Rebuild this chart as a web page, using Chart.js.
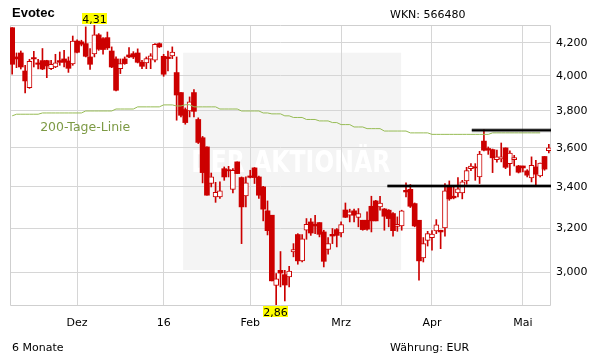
<!DOCTYPE html>
<html><head><meta charset="utf-8">
<script src="https://cdn.jsdelivr.net/npm/chart.js@4.4.0/dist/chart.umd.min.js"></script>
<style>
html,body{margin:0;padding:0;background:#fff;}
#wrap{position:relative;width:611px;height:364px;overflow:hidden;background:#fff;}
canvas{position:absolute;left:0;top:0;}
.t{position:absolute;font-family:"DejaVu Sans";font-size:11px;line-height:13px;color:#000;white-space:nowrap;}
</style></head><body>
<div id="wrap">
<canvas id="c" width="611" height="364"></canvas>
<div class="t" style="left:12px;top:6px;font-family:'Liberation Sans';font-weight:bold;font-size:13px;">Evotec</div>
<div class="t" style="left:390px;top:8px;">WKN: 566480</div>
<div class="t" style="left:12px;top:341px;">6 Monate</div>
<div class="t" style="left:390px;top:341px;">Währung: EUR</div>
</div>
<script>
const dates = [
'2015-11-10','2015-11-11','2015-11-12','2015-11-13','2015-11-16','2015-11-17','2015-11-18','2015-11-19','2015-11-20','2015-11-23','2015-11-24','2015-11-25','2015-11-26','2015-11-27','2015-11-30',
'2015-12-01','2015-12-02','2015-12-03','2015-12-04','2015-12-07','2015-12-08','2015-12-09','2015-12-10','2015-12-11','2015-12-14','2015-12-15','2015-12-16','2015-12-17','2015-12-18','2015-12-21','2015-12-22','2015-12-23','2015-12-28','2015-12-29','2015-12-30',
'2016-01-04','2016-01-05','2016-01-06','2016-01-07','2016-01-08','2016-01-11','2016-01-12','2016-01-13','2016-01-14','2016-01-15','2016-01-18','2016-01-19','2016-01-20','2016-01-21','2016-01-22','2016-01-25','2016-01-26','2016-01-27','2016-01-28','2016-01-29',
'2016-02-01','2016-02-02','2016-02-03','2016-02-04','2016-02-05','2016-02-08','2016-02-09','2016-02-10','2016-02-11','2016-02-12','2016-02-15','2016-02-16','2016-02-17','2016-02-18','2016-02-19','2016-02-22','2016-02-23','2016-02-24','2016-02-25','2016-02-26','2016-02-29',
'2016-03-01','2016-03-02','2016-03-03','2016-03-04','2016-03-07','2016-03-08','2016-03-09','2016-03-10','2016-03-11','2016-03-14','2016-03-15','2016-03-16','2016-03-17','2016-03-18','2016-03-21','2016-03-22','2016-03-23','2016-03-24','2016-03-29','2016-03-30','2016-03-31',
'2016-04-01','2016-04-04','2016-04-05','2016-04-06','2016-04-07','2016-04-08','2016-04-11','2016-04-12','2016-04-13','2016-04-14','2016-04-15','2016-04-18','2016-04-19','2016-04-20','2016-04-21','2016-04-22','2016-04-25','2016-04-26','2016-04-27','2016-04-28','2016-04-29',
'2016-05-02','2016-05-03','2016-05-04','2016-05-05','2016-05-06','2016-05-09','2016-05-10'
];
const open = [
4.293,4.113,4.137,4.029,3.932,4.109,4.077,4.091,4.091,4.043,
4.053,4.091,4.101,4.089,4.071,4.210,4.205,4.194,4.113,4.131,
4.248,4.225,4.231,4.149,4.101,4.043,4.101,4.125,4.133,4.137,
4.081,4.077,4.099,4.093,4.194,4.117,4.113,4.119,4.020,3.904,
3.808,3.800,3.904,3.753,3.654,3.605,3.417,3.351,3.351,3.492,
3.487,3.388,3.527,3.447,3.356,3.455,3.496,3.450,3.400,3.283,
3.262,2.943,3.009,2.990,2.980,3.091,3.171,3.051,3.191,3.230,
3.219,3.227,3.183,3.102,3.172,3.194,3.178,3.287,3.262,3.283,
3.251,3.238,3.238,3.305,3.331,3.302,3.292,3.286,3.270,3.209,
3.211,3.383,3.388,3.318,3.238,3.064,3.144,3.157,3.188,3.191,
3.202,3.400,3.354,3.370,3.370,3.430,3.492,3.501,3.450,3.636,
3.597,3.591,3.539,3.542,3.600,3.518,3.539,3.506,3.506,3.481,
3.445,3.501,3.455,3.555,3.586];
const close = [
4.069,4.101,4.053,3.971,4.087,4.101,4.069,4.041,4.059,4.069,
4.077,4.081,4.081,4.045,4.210,4.141,4.190,4.117,4.069,4.248,
4.160,4.158,4.168,4.053,3.917,4.073,4.073,4.113,4.113,4.081,
4.057,4.103,4.119,4.190,4.174,4.010,4.103,4.143,3.890,3.776,
3.736,3.851,3.798,3.629,3.472,3.359,3.450,3.373,3.380,3.450,
3.481,3.484,3.467,3.302,3.420,3.448,3.447,3.359,3.291,3.189,
2.963,2.972,2.997,2.945,3.006,3.102,3.051,3.151,3.219,3.178,
3.211,3.172,3.049,3.129,3.164,3.167,3.218,3.252,3.278,3.262,
3.270,3.194,3.196,3.235,3.235,3.321,3.257,3.246,3.189,3.219,
3.283,3.375,3.305,3.211,3.051,3.129,3.175,3.173,3.216,3.183,
3.380,3.341,3.346,3.390,3.425,3.482,3.506,3.496,3.568,3.588,
3.588,3.548,3.553,3.553,3.499,3.573,3.549,3.474,3.496,3.459,
3.509,3.464,3.521,3.490,3.600];
const high = [
4.293,4.137,4.149,4.063,4.099,4.147,4.099,4.164,4.093,4.093,
4.129,4.143,4.153,4.113,4.241,4.218,4.215,4.298,4.164,4.310,
4.256,4.231,4.266,4.174,4.113,4.101,4.113,4.170,4.145,4.162,
4.093,4.113,4.133,4.194,4.198,4.129,4.149,4.174,4.113,3.904,
3.817,3.879,3.921,3.762,3.661,3.605,3.470,3.423,3.425,3.501,
3.504,3.492,3.527,3.450,3.450,3.484,3.498,3.455,3.403,3.331,
3.262,2.995,3.093,3.009,3.027,3.129,3.175,3.171,3.246,3.246,
3.262,3.227,3.191,3.157,3.199,3.199,3.230,3.321,3.291,3.291,
3.294,3.238,3.278,3.354,3.334,3.354,3.294,3.289,3.275,3.254,
3.286,3.420,3.412,3.321,3.238,3.157,3.186,3.189,3.241,3.191,
3.417,3.430,3.400,3.447,3.433,3.499,3.518,3.518,3.582,3.697,
3.605,3.594,3.588,3.626,3.600,3.584,3.561,3.509,3.506,3.487,
3.553,3.535,3.521,3.555,3.619];
const low = [
4.010,4.049,4.041,3.902,3.928,4.053,4.041,4.037,3.990,4.037,
4.049,4.063,4.053,4.021,4.063,4.137,4.180,4.113,4.039,4.113,
4.153,4.129,4.158,4.049,3.913,4.014,4.069,4.109,4.103,4.077,
4.043,4.043,4.043,4.083,4.170,3.998,4.029,4.103,3.749,3.767,
3.727,3.767,3.767,3.623,3.420,3.359,3.400,3.324,3.343,3.433,
3.450,3.370,3.467,3.129,3.302,3.445,3.417,3.343,3.235,3.169,
2.963,2.860,2.937,2.877,2.937,3.069,3.036,3.046,3.149,3.167,
3.175,3.160,3.024,3.081,3.129,3.114,3.160,3.251,3.230,3.230,
3.207,3.191,3.191,3.183,3.235,3.286,3.191,3.207,3.163,3.186,
3.191,3.351,3.299,3.207,2.966,3.046,3.118,3.099,3.175,3.106,
3.163,3.334,3.341,3.351,3.341,3.413,3.482,3.433,3.417,3.584,
3.566,3.472,3.525,3.527,3.492,3.458,3.506,3.470,3.475,3.450,
3.425,3.408,3.450,3.484,3.574];
const ma200 = [
3.773,3.782,3.782,3.782,3.782,3.782,3.782,3.789,3.789,3.789,
3.789,3.789,3.789,3.789,3.789,3.789,3.789,3.800,3.800,3.800,
3.800,3.800,3.800,3.800,3.811,3.811,3.811,3.811,3.811,3.823,
3.823,3.823,3.823,3.823,3.823,3.834,3.834,3.834,3.828,3.828,
3.835,3.835,3.823,3.823,3.823,3.823,3.823,3.823,3.811,3.811,
3.811,3.811,3.811,3.800,3.800,3.800,3.800,3.800,3.789,3.789,
3.784,3.784,3.784,3.773,3.773,3.764,3.764,3.764,3.753,3.753,
3.753,3.745,3.745,3.745,3.736,3.736,3.725,3.725,3.725,3.712,
3.712,3.712,3.703,3.703,3.703,3.703,3.690,3.690,3.690,3.690,
3.690,3.690,3.680,3.680,3.680,3.680,3.680,3.672,3.672,3.672,
3.672,3.672,3.672,3.672,3.672,3.672,3.672,3.672,3.672,3.672,
3.672,3.680,3.680,3.680,3.680,3.680,3.680,3.680,3.680,3.680,
3.680,3.680,3.680,null,null];
const levelValues = [3.405, 3.694];
const levelStarts = [86.7, 106.2];
const yTickValues = [3.0, 3.2, 3.4, 3.6, 3.8, 4.0, 4.2];
const monthNames = ['Jan','Feb','Mrz','Apr','Mai','Jun','Jul','Aug','Sep','Okt','Nov','Dez'];
const maLabel = '200-Tage-Linie';
const maLabelIndex = 6;

const RED = '#cc0000';
const idx = dates.map((d, i) => i);
const lastX = dates.length - 0.5;
const tickIdx = [], tickLabels = [];
dates.forEach((d, i) => {
  if (i > 0 && d.slice(5, 7) !== dates[i - 1].slice(5, 7)) {
    const m = +d.slice(5, 7);
    tickIdx.push(i);
    tickLabels.push(m === 1 ? d.slice(2, 4) : monthNames[m - 1]);
  }
});
const isUp = i => close[i] >= open[i];
const fmt = (v, n) => v.toFixed(n).replace('.', ',');

const datasets = [];
levelValues.forEach((v, k) => {
  const pts = [{x: levelStarts[k], y: v}, {x: lastX, y: v}];
  datasets.push({type: 'line', data: pts, borderColor: '#000', borderWidth: 2, pointRadius: 0, order: 0});
  datasets.push({type: 'line', data: pts, borderColor: 'rgba(0,0,0,0.35)', borderWidth: 4, pointRadius: 0, order: 1});
});
datasets.push({type: 'line', data: idx.map(i => ({x: i, y: ma200[i]})), borderColor: '#97bc55', borderWidth: 1, pointRadius: 0, order: 2, spanGaps: false});
datasets.push({type: 'bar', data: idx.map(i => ({x: i, y: [open[i], close[i]]})), barThickness: 5, grouped: false,
  backgroundColor: c => isUp(c.dataIndex) ? '#ffffff' : RED, borderColor: RED,
  borderWidth: c => isUp(c.dataIndex) ? 1 : 0, borderSkipped: false, order: 3});
datasets.push({type: 'bar', data: idx.map(i => ({x: i, y: [low[i], high[i]]})), barThickness: 1, grouped: false,
  backgroundColor: RED, borderWidth: 0, order: 4});

const deco = {
  id: 'deco',
  beforeDraw(chart) {
    const {ctx, chartArea: a} = chart;
    const w = a.right - a.left, h = a.bottom - a.top;
    ctx.save();
    ctx.fillStyle = '#f4f4f4';
    ctx.fillRect(a.left + 0.32 * w, a.top + 0.099 * h, 0.403 * w, 0.776 * h);
    ctx.fillStyle = '#ffffff';
    ctx.font = 'bold 30px "DejaVu Sans Condensed", "DejaVu Sans"';
    const txt = 'DER AKTIONÄR';
    const tw = ctx.measureText(txt).width;
    ctx.translate(a.left + 0.519 * w, a.top + 0.525 * h);
    ctx.scale((0.368 * w) / tw, 1);
    ctx.textAlign = 'center';
    ctx.textBaseline = 'alphabetic';
    ctx.fillText(txt, 0, 0);
    ctx.restore();
  },
  beforeDatasetsDraw(chart) {
    const {ctx, chartArea: a} = chart;
    ctx.save();
    ctx.strokeStyle = '#cfcfcf';
    ctx.lineWidth = 1;
    ctx.beginPath();
    ctx.moveTo(a.left + 0.5, a.top + 0.5); ctx.lineTo(a.right - 0.5, a.top + 0.5);
    ctx.lineTo(a.right - 0.5, a.bottom + 0.5); ctx.lineTo(a.left + 0.5, a.bottom + 0.5);
    ctx.closePath();
    ctx.stroke();
    ctx.restore();
  },
  afterDatasetsDraw(chart) {
    const {ctx, chartArea: a, scales: {x: xs, y: ys}} = chart;
    ctx.save();
    ctx.font = '11px "DejaVu Sans"';
    const tag = (text, cx, top) => {
      const tw = ctx.measureText(text).width + 1;
      ctx.fillStyle = '#ffff00';
      ctx.fillRect(Math.round(cx - tw / 2), top, Math.round(tw), 11);
      ctx.fillStyle = '#000';
      ctx.textAlign = 'center';
      ctx.textBaseline = 'alphabetic';
      ctx.fillText(text, Math.round(cx - tw / 2) + Math.round(tw) / 2, top + 9.5);
    };
    const hMax = Math.max(...high), lMin = Math.min(...low);
    tag(fmt(hMax, 2), xs.getPixelForValue(high.indexOf(hMax)), a.top - 12);
    tag(fmt(lMin, 2), xs.getPixelForValue(low.indexOf(lMin)), a.bottom + 1);
    ctx.font = '12.5px "DejaVu Sans"';
    ctx.fillStyle = '#7d9a45';
    ctx.textAlign = 'left';
    ctx.fillText(maLabel, xs.getPixelForValue(maLabelIndex) + 2, ys.getPixelForValue(ma200[maLabelIndex]) + 17);
    ctx.restore();
  }
};

const tickFont = {family: 'DejaVu Sans', size: 11};
new Chart(document.getElementById('c'), {
  type: 'bar',
  data: {datasets},
  options: {
    responsive: false, animation: false, devicePixelRatio: 1,
    layout: {padding: {left: 10, top: 25, right: 0, bottom: 0}},
    plugins: {legend: {display: false}, tooltip: {enabled: false}},
    scales: {
      x: {
        type: 'linear', min: -0.5, max: lastX, offset: false, bounds: 'data',
        afterBuildTicks: s => { s.ticks = tickIdx.map(v => ({value: v})); },
        afterFit: s => { s.height = 59; },
        ticks: {callback: v => { const k = tickIdx.indexOf(v); return k >= 0 ? tickLabels[k] : ''; },
          autoSkip: false, maxRotation: 0, padding: 12, color: '#000', font: tickFont},
        grid: {color: '#d6d6d6', lineWidth: 1, drawTicks: false, offset: false},
        border: {display: false}
      },
      y: {
        type: 'logarithmic', position: 'right', bounds: 'data', beginAtZero: false,
        min: Math.min(...low), max: Math.max(...high),
        afterBuildTicks: s => { s.ticks = yTickValues.map(v => ({value: v})); },
        afterFit: s => { s.width = 60; },
        ticks: {callback: v => fmt(v, 3), padding: 5, color: '#000', font: tickFont},
        grid: {color: '#d6d6d6', lineWidth: 1, drawTicks: false},
        border: {display: false}
      }
    }
  },
  plugins: [deco]
});
</script>
</body></html>
